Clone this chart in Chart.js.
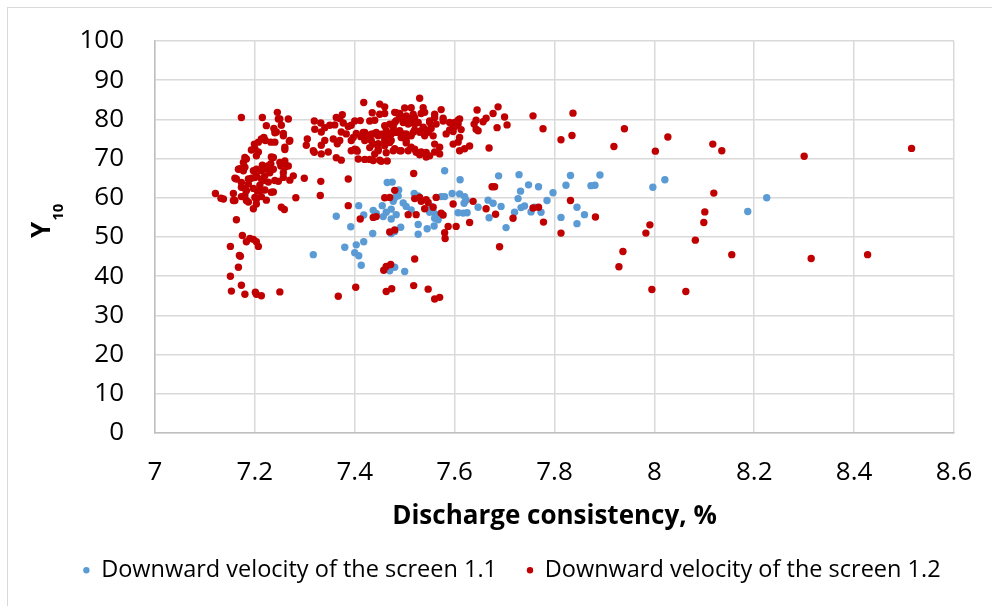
<!DOCTYPE html>
<html>
<head>
<meta charset="utf-8">
<script src="https://cdn.jsdelivr.net/npm/chart.js@4.4.1/dist/chart.umd.min.js"></script>
<style>
  html, body { margin: 0; padding: 0; background: #fff; }
  #wrap { position: relative; width: 992px; height: 606px; }
</style>
</head>
<body>
<div id="wrap"><canvas id="scatterChart" width="992" height="606"></canvas></div>
<script>
// ========================================
// データ
// ========================================

const xTicks = [7, 7.2, 7.4, 7.6, 7.8, 8, 8.2, 8.4, 8.6];
const yTicks = [0, 10, 20, 30, 40, 50, 60, 70, 80, 90, 100];

const seriesNames = ['Downward velocity of the screen 1.1', 'Downward velocity of the screen 1.2'];

// 1.1 (blue)
const blueX = [
    7.475, 7.488, 7.363, 7.392, 7.408, 7.418, 7.437, 7.443, 7.455, 7.463, 7.457, 7.473, 7.483,
    7.436, 7.48, 7.418, 7.403, 7.38, 7.4, 7.408, 7.317, 7.413, 7.48,
    7.58, 7.611, 7.465, 7.487, 7.48, 7.477, 7.519, 7.497, 7.503, 7.513, 7.527, 7.553, 7.557,
    7.563, 7.56, 7.567, 7.55, 7.573, 7.58, 7.595, 7.61, 7.62, 7.623, 7.619, 7.607, 7.617,
    7.625, 7.647, 7.667, 7.677, 7.693, 7.669, 7.688, 7.729, 7.732, 7.748, 7.727, 7.733, 7.74,
    7.72, 7.703, 7.753, 7.473, 7.492, 7.527, 7.527, 7.545, 7.559, 7.47, 7.5, 7.473,
    7.832, 7.891, 7.768, 7.823, 7.797, 7.873, 7.881, 7.997, 8.021, 7.785, 7.76, 7.773,
    7.845, 7.86, 7.813, 7.845, 8.187, 8.225
];
const blueY = [
    64.0, 62.0, 55.3, 52.6, 58.0, 55.6, 56.8, 56.0, 58.0, 56.3, 55.2, 57.1, 55.7,
    50.9, 51.4, 48.8, 48.0, 47.4, 46.0, 45.2, 45.5, 42.8, 42.3,
    66.9, 64.6, 63.9, 60.5, 60.0, 59.1, 61.1, 58.7, 57.8, 56.9, 60.5, 57.8, 56.5,
    55.7, 54.8, 54.4, 56.3, 60.3, 60.3, 61.1, 61.0, 60.3, 59.4, 58.6, 56.2, 56.1,
    56.2, 57.6, 59.4, 58.6, 57.8, 54.9, 65.6, 65.9, 61.7, 63.3, 59.8, 57.5, 57.9,
    56.3, 52.4, 56.4, 54.6, 52.5, 53.2, 50.7, 52.1, 52.8, 41.4, 41.2, 50.9,
    65.7, 65.8, 62.8, 63.2, 61.3, 63.1, 63.2, 62.7, 64.6, 59.3, 57.6, 56.3,
    57.6, 55.7, 55.0, 53.4, 56.5, 60.0
];

// 1.2 (red)
const redX = [
    7.173, 7.199, 7.193, 7.203, 7.18, 7.177, 7.167, 7.177, 7.203, 7.16, 7.193, 7.187, 7.173,
    7.18, 7.197, 7.121, 7.132, 7.157, 7.157, 7.173, 7.183, 7.203, 7.197, 7.163, 7.175, 7.19,
    7.197, 7.183, 7.203, 7.151, 7.169, 7.171, 7.167, 7.151, 7.173, 7.153, 7.18, 7.201, 7.203,
    7.215, 7.245, 7.247, 7.223, 7.253, 7.267, 7.238, 7.24, 7.257, 7.213, 7.221, 7.232, 7.269,
    7.26, 7.233, 7.26, 7.232, 7.215, 7.252, 7.267, 7.237, 7.213, 7.23, 7.257, 7.203, 7.22,
    7.277, 7.213, 7.27, 7.247, 7.299, 7.332, 7.387, 7.227, 7.21, 7.22, 7.205, 7.237, 7.213,
    7.223, 7.282, 7.331, 7.259, 7.387, 7.47, 7.411, 7.437, 7.443, 7.48, 7.207, 7.213, 7.25,
    7.367, 7.402, 7.458, 7.472, 7.474,
    7.418, 7.45, 7.46, 7.435, 7.45, 7.46, 7.483, 7.49, 7.319, 7.332, 7.363, 7.375, 7.411,
    7.44, 7.35, 7.36, 7.377, 7.387, 7.393, 7.32, 7.34, 7.333, 7.373, 7.403, 7.412, 7.417,
    7.423, 7.433, 7.443, 7.453, 7.463, 7.473, 7.483, 7.305, 7.34, 7.357, 7.37, 7.365, 7.42,
    7.433, 7.447, 7.46, 7.473, 7.493, 7.303, 7.333, 7.347, 7.333, 7.317, 7.319, 7.403, 7.405,
    7.43, 7.447, 7.463, 7.477, 7.493, 7.363, 7.373, 7.42, 7.43, 7.45, 7.465,
    7.53, 7.5, 7.513, 7.48, 7.49, 7.503, 7.517, 7.533, 7.537, 7.54, 7.47, 7.477, 7.483, 7.49,
    7.497, 7.507, 7.513, 7.52, 7.527, 7.483, 7.497, 7.55, 7.56, 7.577, 7.573, 7.553, 7.543,
    7.537, 7.52, 7.53, 7.513, 7.59, 7.6, 7.607, 7.61, 7.613, 7.603, 7.597, 7.46, 7.467, 7.503,
    7.513, 7.507, 7.54, 7.56, 7.56, 7.48, 7.533, 7.53, 7.543, 7.607, 7.62, 7.63, 7.639, 7.643,
    7.647, 7.645, 7.643, 7.657, 7.663, 7.677, 7.687, 7.7, 7.705, 7.685, 7.669, 7.757,
    7.518, 7.48, 7.46, 7.52, 7.53, 7.533, 7.543, 7.547, 7.563, 7.54, 7.557, 7.507, 7.523,
    7.573, 7.577, 7.597, 7.587, 7.603, 7.58, 7.581, 7.637, 7.63, 7.663, 7.675, 7.68, 7.682,
    7.717, 7.757, 7.69, 7.47, 7.52, 7.463, 7.518, 7.547, 7.463, 7.56, 7.57,
    7.837, 7.777, 7.813, 7.835, 7.94, 7.919, 8.027, 8.002, 7.832, 7.768, 7.778, 7.882, 7.813,
    7.991, 7.983, 7.937, 7.929, 7.995,
    8.117, 8.135, 8.3, 8.119, 8.101, 8.099, 8.082, 8.155, 8.314, 8.063, 8.515, 8.427,
    // 密集部分
    7.52, 7.51, 7.56, 7.4, 7.37, 7.43, 7.46, 7.48, 7.497, 7.55, 7.563, 7.577, 7.59, 7.6,
    7.597, 7.607, 7.383, 7.397, 7.42, 7.437, 7.447, 7.463, 7.477, 7.503, 7.517, 7.53, 7.547,
    7.557, 7.583, 7.61, 7.393, 7.4, 7.393, 7.437, 7.447, 7.46, 7.47, 7.44, 7.49, 7.503, 7.52,
    7.523, 7.543, 7.55, 7.57, 7.57, 7.597, 7.61, 7.407, 7.437, 7.453,
    7.25, 7.243, 7.257, 7.218, 7.24, 7.27, 7.26, 7.207, 7.2, 7.207, 7.237, 7.227, 7.223,
    7.25, 7.26, 7.183, 7.18, 7.17, 7.197, 7.163, 7.173, 7.187, 7.2, 7.217, 7.24, 7.257,
    7.183, 7.21, 7.233, 7.18, 7.2, 7.16, 7.137, 7.187, 7.203, 7.253
];
const redY = [
    80.5, 73.7, 72.2, 70.7, 70.3, 69.0, 67.3, 66.9, 67.3, 65.0, 65.0, 63.5, 62.7,
    62.4, 62.4, 61.1, 59.9, 59.3, 61.1, 60.3, 59.3, 59.6, 57.2, 54.4, 50.4, 49.6,
    49.4, 48.8, 48.8, 47.6, 45.3, 45.1, 42.3, 40.0, 37.7, 36.2, 35.4, 35.9, 35.4,
    80.5, 81.8, 80.1, 78.4, 78.5, 80.1, 77.7, 76.6, 75.8, 75.0, 74.6, 74.2, 74.4,
    72.3, 70.4, 69.4, 68.7, 68.3, 68.1, 68.1, 67.3, 66.9, 66.4, 66.4, 65.6, 65.6,
    65.6, 64.8, 64.5, 64.2, 65.0, 64.2, 64.8, 64.0, 63.2, 62.0, 61.7, 61.5, 60.3,
    59.4, 60.0, 60.6, 57.0, 58.0, 60.1, 54.6, 55.0, 55.2, 51.8, 47.6, 35.0, 36.0,
    34.9, 37.2, 41.5, 43.0, 36.8,
    84.3, 83.9, 83.2, 81.7, 81.3, 81.5, 81.7, 80.6, 79.6, 79.1, 80.5, 81.2, 79.7,
    79.8, 78.5, 78.6, 79.1, 78.2, 78.5, 77.5, 77.9, 76.8, 76.8, 76.4, 75.6, 76.7,
    75.8, 76.2, 76.7, 76.2, 77.1, 76.2, 76.7, 75.0, 74.6, 75.0, 74.6, 73.8, 74.6,
    74.6, 73.8, 74.2, 74.6, 75.4, 73.4, 73.4, 71.7, 71.2, 72.0, 71.6, 72.3, 71.9,
    72.8, 72.0, 71.5, 72.0, 72.0, 70.2, 69.6, 69.8, 69.8, 69.6, 69.4,
    85.4, 82.9, 83.0, 81.8, 81.5, 80.9, 81.3, 81.5, 83.0, 81.8, 78.8, 78.0, 76.7, 77.1,
    76.3, 78.8, 79.2, 78.8, 79.2, 79.7, 79.7, 79.6, 81.3, 80.3, 82.5, 77.7, 77.3,
    78.0, 77.3, 77.0, 75.8, 77.3, 78.2, 79.8, 80.1, 77.4, 78.6, 76.9, 75.0, 74.6, 74.0,
    72.9, 72.0, 75.8, 73.7, 71.7, 72.5, 71.7, 71.0, 70.4, 74.2, 72.5, 73.2, 78.8, 77.5,
    77.1, 82.4, 79.8, 79.4, 80.3, 81.5, 83.2, 80.6, 78.6, 77.9, 72.7, 80.9,
    66.2, 61.9, 60.0, 59.8, 60.1, 59.1, 59.5, 58.8, 60.1, 57.2, 57.6, 55.7, 55.7,
    56.1, 55.6, 58.4, 52.7, 52.7, 51.1, 49.6, 59.1, 53.7, 57.2, 62.8, 62.8, 55.8,
    54.8, 57.4, 47.5, 51.3, 44.4, 42.5, 37.6, 36.7, 36.1, 34.2, 34.6,
    81.6, 77.6, 74.8, 75.9, 77.6, 73.1, 75.5, 71.9, 59.3, 57.6, 53.8, 55.1, 51.0,
    53.1, 51.0, 46.3, 42.4, 36.6,
    73.7, 72.0, 70.6, 61.2, 56.4, 53.7, 49.2, 45.5, 44.5, 36.1, 72.6, 45.5,
    // 密集部分
    80.5, 80.1, 80.5, 79.6, 80.2, 79.6, 78.4, 79.2, 79.2, 79.2, 78.8, 79.6, 79.2, 79.2,
    77.9, 78.8, 76.3, 75.4, 76.7, 76.3, 75.8, 76.3, 77.1, 76.3, 76.7, 76.7, 76.7,
    75.8, 76.3, 75.4, 74.6, 72.4, 72.0, 73.7, 72.4, 73.3, 74.1, 71.2, 72.0, 74.6, 72.4,
    71.6, 71.6, 70.7, 72.9, 71.2, 73.7, 72.0, 69.9, 69.5, 69.3,
    80.1, 76.8, 76.4, 75.4, 74.2, 74.6, 72.9, 74.2, 72.5, 71.7, 70.3, 68.2, 67.4,
    69.0, 67.8, 69.9, 67.8, 67.4, 66.9, 64.8, 63.9, 64.8, 65.2, 64.4, 64.4, 65.2,
    61.8, 61.8, 61.4, 60.6, 60.1, 59.3, 59.7, 58.9, 58.4, 57.6
];

const blueColor = '#5b9bd5';
const redColor = '#c00000';

// ========================================
// ヘルパー
// ========================================

function toPoints(xs, ys) {
    return xs.map((x, i) => ({ x: x, y: ys[i] }));
}

// 外枠 (左・上のみ見える)
const framePlugin = {
    id: 'frame',
    beforeDraw(chart) {
        const ctx = chart.ctx;
        ctx.save();
        ctx.fillStyle = '#fff';
        ctx.fillRect(0, 0, chart.width, chart.height);
        ctx.strokeStyle = '#d9d9d9';
        ctx.lineWidth = 1;
        ctx.strokeRect(7.5, 7.5, 1100, 1100);
        ctx.restore();
    }
};

// Y軸タイトル (Y + 下付き 10)
const yTitlePlugin = {
    id: 'yTitle',
    afterDraw(chart) {
        const ctx = chart.ctx;
        ctx.save();
        ctx.translate(50, 238);
        ctx.rotate(-Math.PI / 2);
        ctx.fillStyle = '#000';
        ctx.textAlign = 'left';
        ctx.textBaseline = 'alphabetic';
        ctx.font = 'bold 26px "Open Sans"';
        ctx.fillText('Y', 0, 0);
        const w = ctx.measureText('Y').width;
        ctx.font = 'bold 15px "Open Sans"';
        ctx.fillText('10', w + 1, 13);
        ctx.restore();
    }
};

// ========================================
// チャート
// ========================================

const ctx = document.getElementById('scatterChart').getContext('2d');

new Chart(ctx, {
    type: 'scatter',
    data: {
        datasets: [{
            label: seriesNames[0],
            data: toPoints(blueX, blueY),
            backgroundColor: blueColor,
            borderColor: blueColor,
            borderWidth: 0,
            pointRadius: 3.7,
            order: 1
        }, {
            label: seriesNames[1],
            data: toPoints(redX, redY),
            backgroundColor: redColor,
            borderColor: redColor,
            borderWidth: 0,
            pointRadius: 3.7,
            order: 0
        }]
    },
    options: {
        responsive: false,
        animation: false,
        devicePixelRatio: 1,
        layout: {
            padding: { left: 40, right: 8, top: 41, bottom: 14 }
        },
        plugins: {
            tooltip: { enabled: false },
            legend: {
                position: 'bottom',
                labels: {
                    usePointStyle: true,
                    pointStyle: 'circle',
                    boxWidth: 6,
                    boxHeight: 4.5,
                    padding: 30,
                    color: '#000',
                    font: { family: '"Open Sans"', size: 23.5 },
                    sort: (a, b) => a.datasetIndex - b.datasetIndex
                }
            }
        },
        scales: {
            x: {
                type: 'linear',
                min: 7,
                max: 8.6,
                afterFit: scale => {
                    scale.height = 95.5;
                    scale.paddingLeft = 0;
                    scale.paddingRight = 38;
                },
                afterBuildTicks: scale => { scale.ticks = xTicks.map(v => ({ value: v })); },
                grid: { color: '#d9d9d9', lineWidth: 1.5, drawTicks: false },
                border: { color: '#bfbfbf', width: 1.5 },
                ticks: {
                    autoSkip: false,
                    maxRotation: 0,
                    padding: 24,
                    color: '#000',
                    font: { family: '"Open Sans"', size: 26 },
                    callback: v => String(v)
                },
                title: {
                    display: true,
                    text: 'Discharge consistency, %',
                    color: '#000',
                    font: { family: '"Open Sans"', size: 26, weight: 'bold', lineHeight: 0.9 },
                    padding: { top: 0, bottom: 0 }
                }
            },
            y: {
                type: 'linear',
                min: 0,
                max: 100,
                afterFit: scale => {
                    scale.width = 115;
                    scale.paddingTop = 0;
                    scale.paddingBottom = 0;
                },
                afterBuildTicks: scale => { scale.ticks = yTicks.map(v => ({ value: v })); },
                grid: { color: '#d9d9d9', lineWidth: 1.5, drawTicks: false },
                border: { color: '#bfbfbf', width: 1.5 },
                ticks: {
                    autoSkip: false,
                    padding: 31,
                    color: '#000',
                    font: { family: '"Open Sans"', size: 26 },
                    callback: v => String(v)
                }
            }
        }
    },
    plugins: [framePlugin, yTitlePlugin]
});
</script>
</body>
</html>
